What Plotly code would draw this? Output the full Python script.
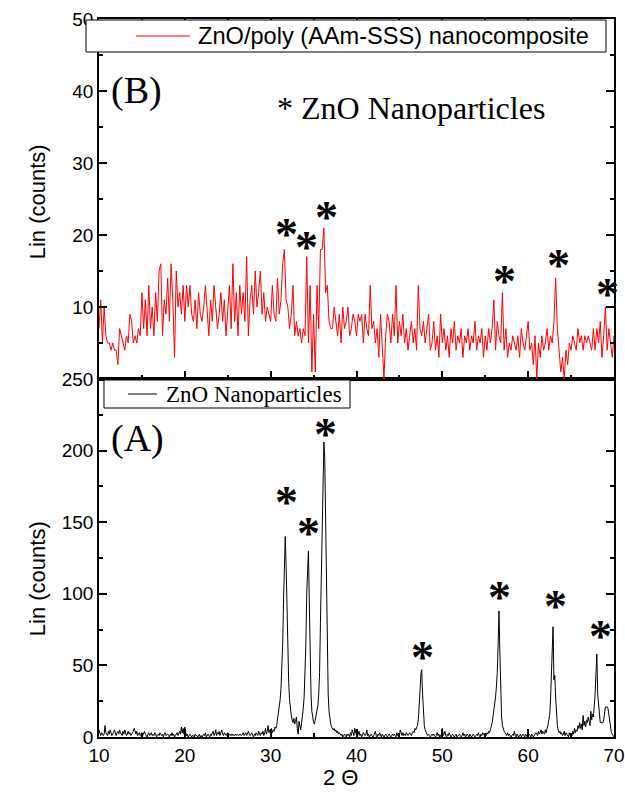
import numpy as np
import plotly.graph_objects as go

# ---------------- data ----------------
# 2-theta sampling grids (degrees)
two_theta_red = np.round(np.arange(10, 70.0001, 0.2), 1)
two_theta_black = np.round(np.arange(10, 70.0001, 0.1), 1)

# (B) ZnO/poly (AAm-SSS) nanocomposite, counts every 0.2 deg from 10 to 70
counts_red = [
    7, 11, 5, 10, 6,   5, 5, 4, 5, 4,    4, 2, 7, 6, 5,    4, 6, 5, 9, 8,
    5, 6, 5, 7, 6,     12, 7, 11, 6, 13, 7, 10, 6, 12, 8,  15, 16, 6, 11, 9,
    14, 8, 16, 11, 3,  15, 10, 12, 9, 13, 8, 13, 10, 13, 9, 8, 11, 7, 12, 9,
    8, 10, 13, 9, 6,   11, 8, 13, 10, 7, 9, 12, 8, 11, 6,  9, 13, 7, 16, 8,
    12, 6, 13, 9, 12,  8, 17, 6, 11, 13, 9, 15, 10, 12, 15, 9, 12, 8, 10, 9,
    8, 13, 9, 8, 14,   9, 11, 16, 18, 11, 10, 7, 9, 13, 6, 8, 6, 7, 5, 7,
    6, 17, 5, 13, 1,   9, 1, 13, 7, 18,  18, 21, 12, 13, 8, 7, 7, 10, 8, 6,
    9, 5, 10, 7, 8,    10, 6, 7, 9, 8,   6, 9, 8, 9, 5,    9, 7, 6, 13, 7,
    8, 5, 7, 3, 9,     4, 0, 6, 9, 8,    5, 9, 6, 13, 5,   8, 6, 9, 5, 7,
    4, 6, 8, 5, 7,     4, 13, 7, 6, 8,   5, 7, 9, 4, 5,    8, 4, 6, 3, 9,
    5, 7, 4, 6, 3,     7, 5, 8, 4, 6,    5, 7, 3, 6, 5,    7, 4, 6, 5, 8,
    4, 6, 5, 7, 3,     6, 4, 7, 5, 7,    11, 4, 8, 6, 5,   12, 4, 7, 3, 5,
    4, 6, 5, 4, 6,     3, 7, 5, 4, 6,    8, 4, 5, 2, 6,    0, 5, 3, 6, 4,
    5, 7, 4, 6, 5,     8, 14, 7, 4, 1,   3, 0, 4, 2, 5,    4, 6, 5, 4, 7,
    5, 6, 4, 6, 5,     6, 5, 4, 7, 4,    7, 5, 8, 3, 6,    10, 4, 7, 5, 3,
    6,
]

# (A) ZnO nanoparticles, counts every 0.1 deg from 10 to 70
counts_black = [
    5, 2, 1, 3, 2, 1, 2, 8, 3, 2,        1, 4, 2, 5, 3, 1, 2, 4, 5, 3,
    1, 3, 4, 2, 5, 3, 2, 1, 4, 2,        5, 3, 1, 2, 4, 2, 3, 1, 2, 3,
    4, 6, 3, 2, 4, 1, 2, 3, 1, 2,        3, 1, 2, 4, 2, 1, 0, 2, 3, 1,
    2, 3, 1, 2, 1, 3, 2, 0, 1, 2,        1, 3, 2, 1, 2, 0, 2, 3, 1, 2,
    2, 1, 0, 2, 1, 3, 1, 2, 0, 1,        2, 3, 1, 2, 4, 2, 7, 3, 6, 2,
    7, 3, 1, 2, 0, 1, 2, 1, 0, 1,        1, 0, 2, 1, 1, 0, 1, 2, 0, 1,
    0, 1, 2, 1, 3, 0, 1, 2, 1, 0,        2, 1, 3, 4, 1, 2, 5, 1, 3, 2,
    4, 1, 3, 5, 2, 1, 3, 2, 1, 2,        3, 1, 2, 1, 2, 1, 2, 1, 1, 2,
    1, 2, 1, 1, 2, 1, 1, 2, 3, 1,        2, 3, 1, 2, 4, 2, 1, 2, 3, 1,
    0, 2, 1, 3, 2, 1, 4, 2, 1, 3,        2, 4, 1, 3, 6, 2, 4, 8, 3, 5,
    4, 6, 3, 5, 4, 7, 6, 8, 12, 16,      20, 26, 34, 46, 65, 95, 125, 140, 120, 85,
    60, 38, 26, 19, 15, 12, 10, 13, 9, 11,
    14, 6, 2, 11, 8, 5, 10, 14, 20, 28,
    42, 65, 100, 125, 130, 95, 55, 30, 18, 12,
    10, 9, 12, 14, 18, 22, 30, 45, 80, 120,
    160, 190, 206, 195, 150, 90, 50, 30, 18, 12,
    9, 7, 6, 5, 6, 4, 5, 3, 4, 2,        3, 2, 1, 2, 0, 1, 2, 1, 0, 2,
    1, 2, 0, 3, 1, 5, 2, 1, 6, 2,        1, 0, 2, 4, 1, 2, 0, 1, 3, 2,
    1, 2, 5, 1, 2, 0, 1, 2, 1, 0,        1, 2, 4, 1, 0, 2, 1, 3, 1, 0,
    2, 1, 0, 1, 2, 1, 0, 1, 2, 1,        0, 1, 2, 1, 2, 1, 0, 3, 1, 2,
    1, 5, 2, 1, 3, 1, 2, 1, 3, 2,        1, 2, 3, 2, 1, 3, 4, 3, 6, 5,
    6, 8, 12, 20, 32, 44, 47, 30, 15, 8,
    5, 3, 2, 1, 2, 1, 0, 1, 2, 1,        2, 1, 0, 1, 3, 1, 2, 0, 1, 2,
    6, 1, 2, 4, 1, 0, 2, 1, 3, 1,        0, 1, 2, 1, 0, 1, 2, 0, 1, 1,
    2, 1, 0, 1, 3, 1, 2, 0, 1, 2,        1, 0, 2, 1, 0, 1, 2, 1, 0, 1,
    2, 1, 3, 1, 0, 2, 1, 3, 2, 1,        2, 1, 3, 2, 4, 3, 5, 7, 10, 14,
    18, 22, 28, 35, 45, 65, 88, 60, 30, 14,
    8, 5, 4, 3, 2, 1, 3, 1, 2, 1,        0, 1, 2, 1, 4, 1, 0, 2, 1, 0,
    1, 2, 0, 1, 2, 1, 0, 2, 1, 0,        1, 2, 1, 0, 2, 1, 0, 1, 2, 3,
    2, 1, 4, 2, 3, 5, 2, 4, 3, 2,        5, 3, 6, 8, 12, 15, 25, 45, 60, 77,
    40, 43, 28, 14, 8, 5, 3, 4, 2, 3,    1, 2, 4, 1, 3, 2, 1, 0, 3, 1,
    2, 1, 4, 2, 6, 3, 5, 4, 8, 6,        10, 6, 9, 5, 15, 8, 11, 7, 12, 10,
    14, 10, 8, 18, 12, 16, 14, 22, 30, 45,
    58, 30, 23, 15, 10, 10, 10, 10, 12, 20,
    21, 21, 21, 20, 15, 10, 6, 3, 2, 1,
    0,
]

# asterisk marker positions (2theta, counts)
star_b_x = [31.8, 34.2, 36.45, 57.2, 63.5, 69.3]
star_b_y = [21.2, 19.4, 23.6, 14.6, 16.9, 12.8]
star_a_x = [31.8, 34.4, 36.4, 47.7, 56.7, 63.2, 68.4]
star_a_y = [169, 148, 217, 61, 103, 97, 76]

x_ticks = [10, 20, 30, 40, 50, 60, 70]
a_ticks = [0, 50, 100, 150, 200, 250]
b_ticks = [10, 20, 30, 40, 50]

SANS = "Liberation Sans, Arial, sans-serif"
SERIF = "Liberation Serif, Times New Roman, serif"

fig = go.Figure()
fig.add_trace(go.Scatter(x=two_theta_red, y=counts_red, xaxis="x2", yaxis="y2",
                         mode="lines", line=dict(color="#ff0000", width=1),
                         name="ZnO/poly (AAm-SSS) nanocomposite"))
fig.add_trace(go.Scatter(x=two_theta_black, y=counts_black, xaxis="x", yaxis="y",
                         mode="lines", line=dict(color="black", width=1),
                         name="ZnO Nanoparticles"))

axis_common = dict(showline=True, linecolor="black", linewidth=1.5, ticks="inside",
                   ticklen=8, tickwidth=1.5, tickcolor="black", showgrid=False,
                   zeroline=False, automargin=False,
                   tickfont=dict(family=SANS, size=19, color="black"))

split = 0.4986
fig.update_layout(
    width=625, height=796,
    margin=dict(l=99, r=11, t=19, b=59, autoexpand=False),
    plot_bgcolor="white", paper_bgcolor="white",
    showlegend=False,
    xaxis=dict(domain=[0, 1], anchor="y", range=[10, 70], tickvals=x_ticks, mirror=True,
               minor=dict(dtick=5, ticks="inside", ticklen=4, tickcolor="black"),
               **axis_common),
    yaxis=dict(domain=[0, split], anchor="x", range=[0, 250], tickvals=a_ticks, mirror="ticks",
               minor=dict(dtick=25, ticks="inside", ticklen=4, tickcolor="black"),
               **axis_common),
    xaxis2=dict(domain=[0, 1], anchor="y2", range=[10, 70], tickvals=x_ticks, mirror="ticks",
                showticklabels=False,
                minor=dict(dtick=5, ticks="inside", ticklen=4, tickcolor="black"),
                **axis_common),
    yaxis2=dict(domain=[split, 1], anchor="x2", range=[0, 50], tickvals=b_ticks, mirror="ticks",
                minor=dict(dtick=5, ticks="inside", ticklen=4, tickcolor="black"),
                **axis_common),
)

STAR_FONT = dict(family=SERIF, size=46, color="black")
annotations = []
for sx, sy in zip(star_b_x, star_b_y):
    annotations.append(dict(x=sx, y=sy, xref="x2", yref="y2", text="<b>*</b>", showarrow=False,
                            font=STAR_FONT, yshift=-8))
for sx, sy in zip(star_a_x, star_a_y):
    annotations.append(dict(x=sx, y=sy, xref="x", yref="y", text="<b>*</b>", showarrow=False,
                            font=STAR_FONT, yshift=-8))

annotations += [
    dict(x=14.4, y=40.1, xref="x2", yref="y2", text="(B)", showarrow=False,
         font=dict(family=SERIF, size=38, color="black")),
    dict(x=46.4, y=37.6, xref="x2", yref="y2", text="* ZnO Nanoparticles", showarrow=False,
         font=dict(family=SERIF, size=32, color="black")),
    dict(x=14.5, y=208.8, xref="x", yref="y", text="(A)", showarrow=False,
         font=dict(family=SERIF, size=38, color="black")),
    # legend texts
    dict(x=0.1883, y=0.9763, xref="paper", yref="paper", xanchor="left", yanchor="middle",
         text="ZnO/poly (AAm-SSS) nanocomposite", showarrow=False,
         font=dict(family=SANS, size=23.6, color="black")),
    dict(x=0.1262, y=0.4777, xref="paper", yref="paper", xanchor="left", yanchor="middle",
         text="ZnO Nanoparticles", showarrow=False,
         font=dict(family=SERIF, size=23, color="black")),
    # axis titles
    dict(x=-0.12, y=0.745, xref="paper", yref="paper", xanchor="center", yanchor="middle",
         text="Lin (counts)", textangle=-90,
         showarrow=False, font=dict(family=SANS, size=22, color="black")),
    dict(x=-0.12, y=0.22, xref="paper", yref="paper", xanchor="center", yanchor="middle",
         text="Lin (counts)", textangle=-90,
         showarrow=False, font=dict(family=SANS, size=22, color="black")),
    dict(x=0.468, y=-0.0571, xref="paper", yref="paper", xanchor="center", yanchor="middle",
         text="2 Θ", showarrow=False, font=dict(family=SANS, size=22, color="black")),
]
fig.update_layout(annotations=annotations)

shapes = [
    # legend (B) box and line
    dict(type="rect", xref="paper", yref="paper", x0=-0.0252, x1=0.9845, y0=0.954, y1=0.9986,
         fillcolor="white", line=dict(color="black", width=1), layer="above"),
    dict(type="line", xref="paper", yref="paper", x0=0.0718, x1=0.1767, y0=0.9763, y1=0.9763,
         line=dict(color="#ff0000", width=1), layer="above"),
    # legend (A) box and line
    dict(type="rect", xref="paper", yref="paper", x0=0.0097, x1=0.4874, y0=0.4582, y1=0.4972,
         fillcolor="white", line=dict(color="black", width=1), layer="above"),
    dict(type="line", xref="paper", yref="paper", x0=0.0563, x1=0.1126, y0=0.4777, y1=0.4777,
         line=dict(color="black", width=1), layer="above"),
]
fig.update_layout(shapes=shapes)

fig.write_html("out.html")
